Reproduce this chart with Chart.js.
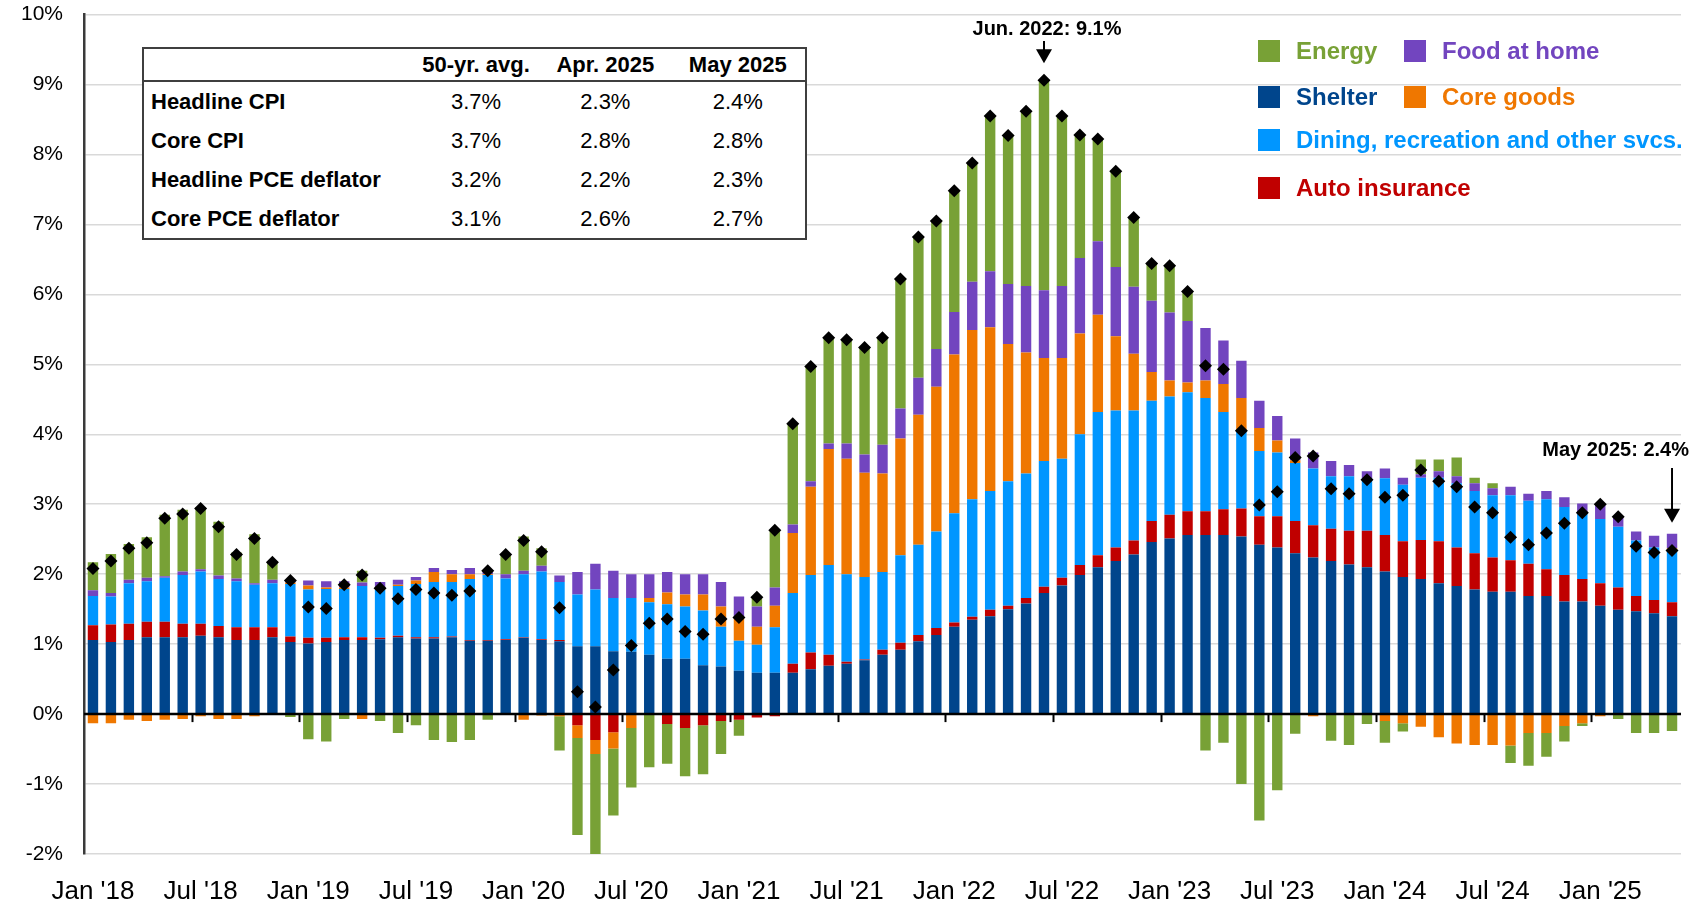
<!DOCTYPE html>
<html>
<head>
<meta charset="utf-8">
<script src="https://cdn.jsdelivr.net/npm/chart.js@4.4.1/dist/chart.umd.min.js"></script>
<style>
  body { margin: 0; background: #fff; font-family: "Liberation Sans", Arial, sans-serif; }
  #wrap { position: relative; width: 1706px; height: 901px; overflow: hidden; }
  #chart { position: absolute; left: 0; top: 0; }
  #tbl {
    position: absolute; left: 142px; top: 47px; width: 665px;
    border: 2px solid #3f3f3f; background: #fff; border-collapse: collapse;
    font-size: 22px; color: #000;
  }
  #tbl th { font-weight: bold; height: 31px; padding: 0; border-bottom: 2px solid #3f3f3f; }
  #tbl td { height: 39px; padding: 0; text-align: center; }
  #tbl td.lbl { text-align: left; padding-left: 7px; font-weight: bold; }
  .leg { position: absolute; font-size: 24px; font-weight: bold; white-space: nowrap; line-height: 24px; }
  .leg i { position: absolute; width: 22px; height: 22px; left: -38px; top: 1px; }
</style>
</head>
<body>
<div id="wrap">
  <canvas id="chart" width="1706" height="901"></canvas>
  <table id="tbl"></table>
</div>
<script>
/* ---------- DATA (contributions, percentage points) ---------- */
const tickLabels = ["Jan '18", "Jul '18", "Jan '19", "Jul '19", "Jan '20", "Jul '20", "Jan '21", "Jul '21",
  "Jan '22", "Jul '22", "Jan '23", "Jul '23", "Jan '24", "Jul '24", "Jan '25"];

const shelter = [
  1.06,1.03,1.06,1.10,1.10,1.10,1.12,1.10,1.06,1.06,1.10,1.03,
  1.01,1.03,1.06,1.06,1.07,1.10,1.08,1.08,1.10,1.05,1.05,1.06,
  1.09,1.06,1.04,0.97,0.97,0.90,0.89,0.85,0.79,0.79,0.70,0.68,
  0.62,0.59,0.59,0.59,0.64,0.69,0.72,0.77,0.85,0.92,1.04,1.13,
  1.25,1.35,1.40,1.50,1.58,1.73,1.84,1.99,2.10,2.19,2.28,2.46,
  2.51,2.56,2.56,2.56,2.54,2.42,2.38,2.30,2.24,2.19,2.14,2.10,
  2.04,1.96,1.93,1.87,1.83,1.78,1.75,1.75,1.69,1.69,1.61,1.61,
  1.55,1.49,1.47,1.44,1.40];

const autoIns = [
  0.21,0.25,0.23,0.22,0.22,0.19,0.17,0.16,0.18,0.18,0.14,0.08,
  0.08,0.06,0.04,0.04,0.02,0.02,0.02,0.02,0.01,0.01,0.01,0.01,
  0.01,0.01,0.02,-0.16,-0.37,-0.26,0,-0.01,-0.14,-0.20,-0.16,-0.10,
  -0.08,-0.05,-0.03,0.13,0.24,0.16,0.03,0.01,0.07,0.10,0.09,0.10,
  0.06,0.04,0.09,0.05,0.08,0.09,0.11,0.14,0.17,0.19,0.20,0.30,
  0.34,0.34,0.34,0.37,0.40,0.41,0.45,0.46,0.46,0.46,0.48,0.52,
  0.52,0.51,0.56,0.60,0.55,0.52,0.49,0.45,0.46,0.38,0.38,0.32,
  0.32,0.32,0.22,0.19,0.20];

const dining = [
  0.42,0.40,0.58,0.58,0.63,0.70,0.75,0.67,0.66,0.61,0.63,0.75,
  0.69,0.70,0.69,0.73,0.69,0.71,0.76,0.79,0.78,0.87,0.93,0.87,
  0.90,0.97,0.83,0.74,0.81,0.76,0.77,0.75,0.78,0.75,0.78,0.57,
  0.43,0.40,0.65,1.01,1.11,1.28,1.25,1.18,1.11,1.25,1.29,1.38,
  1.56,1.68,1.70,1.78,1.78,1.80,1.70,1.87,2.05,1.96,1.86,1.72,
  1.69,1.70,1.62,1.39,1.10,0.93,0.91,0.83,0.81,0.75,0.78,0.75,
  0.81,0.81,0.89,0.91,0.92,0.89,0.89,0.93,0.90,1.00,0.97,0.95,
  0.92,0.87,0.79,0.75,0.75];

const coreGoods = [
  -0.13,-0.13,-0.08,-0.10,-0.08,-0.07,-0.03,-0.07,-0.07,-0.03,0,0.02,
  0.06,0.02,0.02,-0.07,0.02,0.02,0.05,0.14,0.11,0.07,0.01,0,
  -0.08,-0.02,-0.03,-0.18,-0.20,-0.23,-0.20,0.06,0.17,0.17,0.23,0.29,
  0.32,0.26,0.31,0.86,1.26,1.66,1.65,1.49,1.41,1.67,1.86,2.07,
  2.27,2.42,2.34,1.96,1.73,1.47,1.44,1.44,1.39,1.06,0.81,0.41,
  0.23,0.14,0.25,0.40,0.48,0.33,0.17,0.04,-0.03,0,0,0,
  -0.10,-0.13,-0.18,-0.33,-0.42,-0.44,-0.44,-0.45,-0.27,-0.27,-0.17,-0.13,
  -0.03,0,0,0,0.02];

const foodHome = [
  0.08,0.05,0.05,0.05,0.02,0.05,0.03,0.05,0.04,0.02,0.05,0.02,
  0.07,0.09,0.09,0.05,0.09,0.07,0.05,0.06,0.06,0.09,0.05,0.06,
  0.05,0.08,0.09,0.32,0.37,0.39,0.34,0.34,0.29,0.29,0.29,0.35,
  0.31,0.29,0.26,0.12,0.08,0.08,0.22,0.26,0.41,0.43,0.53,0.54,
  0.61,0.69,0.80,0.86,0.95,0.97,1.03,1.08,1.05,0.99,0.96,1.02,
  0.97,0.88,0.75,0.62,0.53,0.39,0.35,0.31,0.23,0.22,0.16,0.10,
  0.14,0.10,0.05,0.09,0.10,0.11,0.10,0.12,0.10,0.12,0.14,0.13,
  0.21,0.14,0.13,0.17,0.21];

const energy = [
  0.40,0.56,0.51,0.58,0.88,0.88,0.89,0.77,0.37,0.70,0.27,-0.04,
  -0.36,-0.39,-0.07,0.17,-0.10,-0.27,-0.16,-0.37,-0.40,-0.37,-0.08,0.28,
  0.49,0.25,-0.49,-1.39,-1.45,-0.96,-0.85,-0.75,-0.57,-0.69,-0.70,-0.47,
  -0.23,0.13,0.82,1.44,1.64,1.51,1.48,1.54,1.53,1.85,2.01,1.83,
  1.73,1.70,2.22,2.12,2.50,3.00,2.43,1.76,1.46,1.37,0.99,0.53,
  0.66,0.41,-0.52,-0.41,-1.00,-1.52,-1.09,-0.28,0,-0.38,-0.44,-0.14,
  -0.31,-0.12,0.21,0.17,0.27,0.08,0.07,-0.25,-0.47,-0.34,-0.22,-0.04,
  0,-0.07,-0.27,-0.27,-0.24];

// headline CPI, % y/y (black diamonds)
const headline = [
  2.08,2.19,2.37,2.45,2.80,2.86,2.94,2.68,2.28,2.51,2.17,1.91,
  1.53,1.51,1.85,1.99,1.80,1.65,1.78,1.73,1.70,1.76,2.05,2.28,
  2.48,2.32,1.52,0.32,0.10,0.63,0.98,1.30,1.36,1.18,1.14,1.36,
  1.38,1.67,2.63,4.15,4.97,5.38,5.35,5.24,5.38,6.22,6.82,7.05,
  7.48,7.88,8.55,8.27,8.62,9.06,8.55,8.28,8.22,7.76,7.10,6.44,
  6.41,6.04,4.98,4.93,4.05,2.99,3.18,3.67,3.69,3.22,3.15,3.35,
  3.10,3.13,3.49,3.33,3.25,2.96,2.88,2.53,2.42,2.59,2.73,2.88,
  3.00,2.82,2.40,2.31,2.34];

// inset table
const tableCols = ['50-yr. avg.', 'Apr. 2025', 'May 2025'];
const tableRows = ['Headline CPI', 'Core CPI', 'Headline PCE deflator', 'Core PCE deflator'];
const avg50     = ['3.7%', '3.7%', '3.2%', '3.1%'];
const apr2025   = ['2.3%', '2.8%', '2.2%', '2.6%'];
const may2025   = ['2.4%', '2.8%', '2.3%', '2.7%'];

const COLORS = {
  shelter: '#00458c',
  auto:    '#c00000',
  dining:  '#0096ff',
  goods:   '#ef7700',
  food:    '#7245bf',
  energy:  '#78a136'
};

const months = [];
for (let y = 2018; y <= 2025; y++) {
  for (let m = 0; m < 12; m++) {
    if (months.length < shelter.length) months.push(m + '/' + y);
  }
}

/* ---------- TABLE ---------- */
(function buildTable() {
  const t = document.getElementById('tbl');
  let html = '<colgroup><col style="width:268px"><col style="width:128px"><col style="width:130px"><col style="width:135px"></colgroup>';
  html += '<tr><th></th>' + tableCols.map(c => '<th>' + c + '</th>').join('') + '</tr>';
  tableRows.forEach((r, i) => {
    html += '<tr><td class="lbl">' + r + '</td><td>' + avg50[i] + '</td><td>' + apr2025[i] + '</td><td>' + may2025[i] + '</td></tr>';
  });
  t.innerHTML = html;
})();

/* ---------- LEGEND ---------- */
const legendItems = [
  { text: 'Energy',                              color: COLORS.energy,  left: 1296, top: 39 },
  { text: 'Food at home',                        color: COLORS.food,    left: 1442, top: 39 },
  { text: 'Shelter',                             color: COLORS.shelter, left: 1296, top: 85 },
  { text: 'Core goods',                          color: COLORS.goods,   left: 1442, top: 85 },
  { text: 'Dining, recreation and other svcs.',  color: COLORS.dining,  left: 1296, top: 128 },
  { text: 'Auto insurance',                      color: COLORS.auto,    left: 1296, top: 176 }
];
legendItems.forEach(it => {
  const d = document.createElement('div');
  d.className = 'leg';
  d.style.left = it.left + 'px';
  d.style.top = it.top + 'px';
  d.style.color = it.color;
  d.innerHTML = '<i style="background:' + it.color + '"></i>' + it.text;
  document.getElementById('wrap').appendChild(d);
});

/* ---------- ZERO LINE, TICKS, CALLOUTS ---------- */
const overlay = {
  id: 'overlay',
  beforeDatasetDraw(chart, args) {
    if (args.index !== 6) return;
    const { ctx, chartArea, scales: { x, y } } = chart;
    const y0 = y.getPixelForValue(0);
    ctx.save();
    ctx.strokeStyle = '#000';
    ctx.lineWidth = 2.5;
    ctx.beginPath();
    ctx.moveTo(chartArea.left, y0);
    ctx.lineTo(chartArea.right, y0);
    ctx.stroke();
    const half = (x.getPixelForValue(1) - x.getPixelForValue(0)) / 2;
    ctx.lineWidth = 2;
    for (let i = 6; i < months.length; i += 6) {
      const px = Math.round(x.getPixelForValue(i) - half) + 0.5;
      ctx.beginPath();
      ctx.moveTo(px, y0);
      ctx.lineTo(px, y0 + 8);
      ctx.stroke();
    }
    ctx.restore();
  },
  afterDraw(chart) {
    const { ctx, scales: { x, y } } = chart;
    ctx.save();
    ctx.fillStyle = '#000';
    ctx.strokeStyle = '#000';
    ctx.font = 'bold 20px "Liberation Sans", Arial, sans-serif';
    ctx.textBaseline = 'middle';

    // peak: Jun 2022
    const ip = 53;
    const px = x.getPixelForValue(ip);
    const tip = y.getPixelForValue(headline[ip]) - 17;
    ctx.textAlign = 'center';
    ctx.fillText('Jun. 2022: 9.1%', px + 3, 29);
    drawArrow(ctx, px, 41, tip);

    // latest: May 2025
    const il = months.length - 1;
    const lx = x.getPixelForValue(il);
    let top = 0;
    [shelter, autoIns, dining, coreGoods, foodHome, energy].forEach(s => { if (s[il] > 0) top += s[il]; });
    const ltip = y.getPixelForValue(top) - 11;
    ctx.textAlign = 'right';
    ctx.fillText('May 2025: 2.4%', lx + 17, 450);
    drawArrow(ctx, lx, 468, ltip);
    ctx.restore();
  }
};

function drawArrow(ctx, px, y1, y2) {
  ctx.lineWidth = 2;
  ctx.beginPath();
  ctx.moveTo(px, y1);
  ctx.lineTo(px, y2 - 12);
  ctx.stroke();
  ctx.beginPath();
  ctx.moveTo(px - 8, y2 - 14);
  ctx.lineTo(px + 8, y2 - 14);
  ctx.lineTo(px, y2);
  ctx.closePath();
  ctx.fill();
}

/* ---------- CHART ---------- */
function barSet(label, data, color) {
  return {
    type: 'bar', label, data, backgroundColor: color, borderWidth: 0,
    stack: 'cpi', order: 1, barPercentage: 0.58, categoryPercentage: 1.0
  };
}

new Chart(document.getElementById('chart'), {
  data: {
    labels: months,
    datasets: [
      barSet('Shelter', shelter, COLORS.shelter),
      barSet('Auto insurance', autoIns, COLORS.auto),
      barSet('Dining, recreation and other svcs.', dining, COLORS.dining),
      barSet('Core goods', coreGoods, COLORS.goods),
      barSet('Food at home', foodHome, COLORS.food),
      barSet('Energy', energy, COLORS.energy),
      {
        type: 'line', label: 'Headline CPI', data: headline, stack: 'headline', order: 0,
        showLine: false, pointStyle: 'rectRot', pointRadius: 6.5,
        pointBackgroundColor: '#000', pointBorderColor: '#000', pointBorderWidth: 0
      }
    ]
  },
  options: {
    responsive: false,
    animation: false,
    layout: { padding: { top: 2, right: 25, left: 0, bottom: 0 } },
    plugins: { legend: { display: false }, tooltip: { enabled: false } },
    scales: {
      x: {
        stacked: true,
        offset: true,
        grid: { display: false },
        border: { display: false },
        ticks: {
          autoSkip: false, maxRotation: 0, padding: 14, color: '#000',
          font: { family: '"Liberation Sans", Arial, sans-serif', size: 26 },
          callback: (v, i) => i % 6 === 0 ? tickLabels[i / 6] : ''
        },
        afterFit: s => { s.height = 47; }
      },
      y: {
        stacked: true,
        min: -2, max: 10,
        grid: { color: '#d9d9d9', lineWidth: 1.5, drawTicks: true, tickLength: 19, tickColor: 'rgba(0,0,0,0)' },
        border: { display: true, color: '#3a3a3a', width: 2.5 },
        ticks: {
          stepSize: 1, padding: 2, color: '#000',
          font: { family: '"Liberation Sans", Arial, sans-serif', size: 21 },
          callback: v => v + '%'
        },
        afterFit: s => { s.width = 84; }
      }
    }
  },
  plugins: [overlay]
});
</script>
</body>
</html>
